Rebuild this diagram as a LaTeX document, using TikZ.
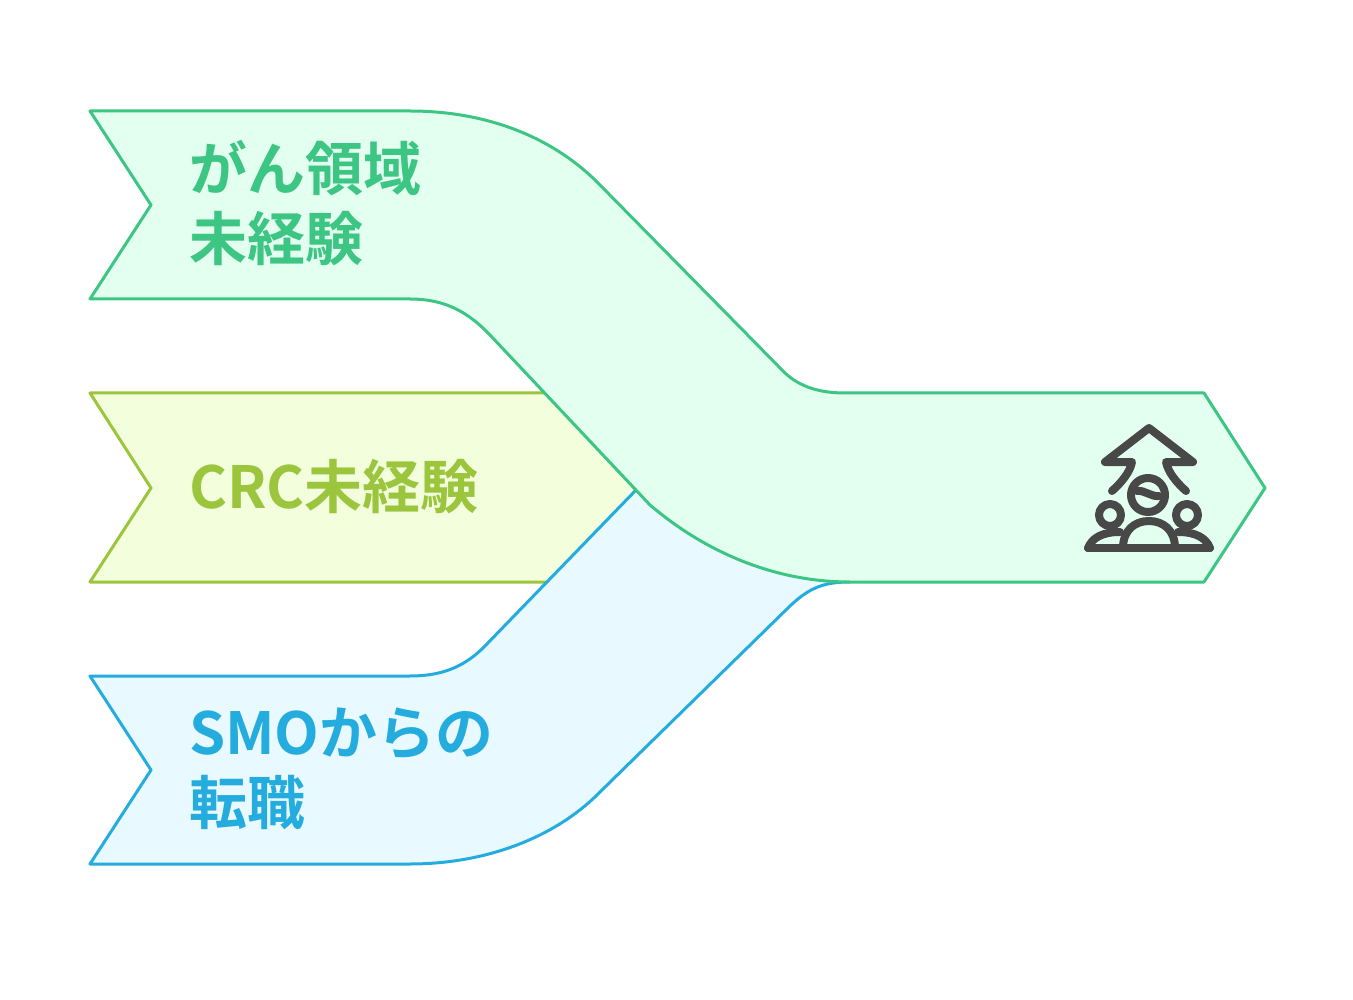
\documentclass[tikz,border=0pt]{standalone}
\usepackage{fontspec}
\setmainfont[BoldFont={Noto Sans CJK JP Bold}]{Noto Sans CJK JP}
\definecolor{greenline}{HTML}{3CC583}
\definecolor{greenfill}{HTML}{E2FFF0}
\definecolor{limeline}{HTML}{9BC53D}
\definecolor{limefill}{HTML}{F3FFDC}
\definecolor{blueline}{HTML}{25ACDF}
\definecolor{bluefill}{HTML}{E8F9FF}
\definecolor{iconline}{HTML}{484848}
\begin{document}
\begin{tikzpicture}[x=1pt,y=-1pt,line join=round,
  band/.style={line width=3pt},
  bandtext/.style={anchor=west,align=left,font=\bfseries\fontsize{58}{70}\selectfont,inner sep=0pt},
  iconpart/.style={draw=iconline,line width=8pt,line cap=round}]
\useasboundingbox (0,0) rectangle (1353,1000);
% middle arrow
\draw[band,draw=limeline,fill=limefill] (90,393) -- (552,393) -- (645,488) -- (556,582) -- (90,582) -- (151,488) -- cycle;
% lower arrow
\draw[band,draw=blueline,fill=bluefill] (90,676) -- (410,676)
  .. controls (440,676) and (463,668) .. (484,647) -- (636,490)
  -- (760,500) -- (850,582)
  .. controls (825,582) and (810,587) .. (790,606) -- (600,792)
  .. controls (555,838) and (485,864) .. (410,864) -- (90,864) -- (151,770) -- cycle;
% upper arrow
\draw[band,draw=greenline,fill=greenfill] (90,111) -- (410,111)
  .. controls (485,111) and (553,136) .. (601,186) -- (785,373)
  .. controls (800,387) and (820,393) .. (845,393) -- (1204,393) -- (1265,488) -- (1204,582) -- (850,582)
  .. controls (780,582) and (710,556) .. (650,505) -- (490,335)
  .. controls (468,312) and (445,299) .. (410,299) -- (90,299) -- (151,205) -- cycle;
% labels
\node[bandtext,text=greenline] (gan) at (189,203) {がん領域\\未経験};
\node[bandtext,text=limeline] (crc) at (189,487) {CRC未経験};
\node[bandtext,text=blueline] (smo) at (189,769) {SMOからの\\転職};
% icon
\draw[iconpart] (1112,491) .. controls (1122,482) and (1130,472) .. (1132,462) -- (1105,462) -- (1149,428) -- (1193,462) -- (1166,462) .. controls (1168,472) and (1176,482) .. (1186,491);
\draw[iconpart] (1148,495) circle (17);
\draw[iconpart] (1137,491) .. controls (1145,490) and (1151,497) .. (1159,496);
\draw[iconpart] (1110,515) circle (11);
\draw[iconpart] (1187,515) circle (11);
\draw[iconpart] (1088,548) -- (1210,548);
\draw[iconpart] (1088,548) .. controls (1092,538) and (1102,532) .. (1120,532);
\draw[iconpart] (1210,548) .. controls (1206,538) and (1196,532) .. (1178,532);
\draw[iconpart] (1123,548) .. controls (1123,530) and (1135,521) .. (1149,521) .. controls (1163,521) and (1175,530) .. (1175,548);
\end{tikzpicture}
\end{document}
